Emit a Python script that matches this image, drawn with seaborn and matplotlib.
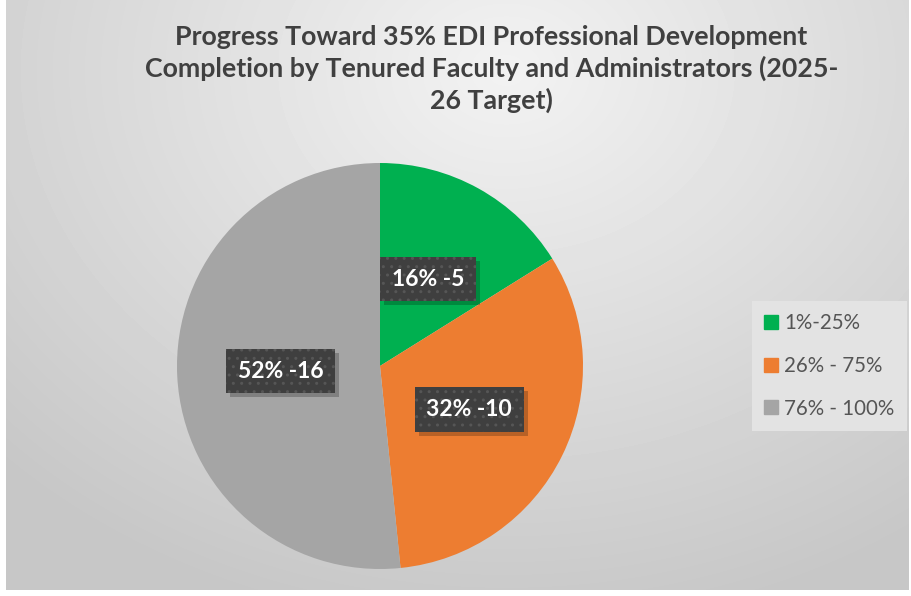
import numpy as np
import matplotlib
matplotlib.use("Agg")
import matplotlib.pyplot as plt
import matplotlib.transforms as mtransforms
import seaborn as sns

ranges = ["1%-25%", "26% - 75%", "76% - 100%"]
counts = [5, 10, 16]
colors = ["#00B050", "#ED7D31", "#A5A5A5"]
title = ("Progress Toward 35% EDI Professional Development\n"
         "Completion by Tenured Faculty and Administrators (2025-\n"
         "26 Target)")

sns.set_theme(style="white")
plt.rcParams["font.family"] = ["Lato", "DejaVu Sans"]

fig = plt.figure(figsize=(9.12, 5.96), dpi=100)
fig.patch.set_facecolor("white")

# chart area background with soft gradient
bg = fig.add_axes([6 / 912, 6 / 596, 903 / 912, 590 / 596])
bg.set_axis_off()
yy, xx = np.mgrid[0:590, 0:903]
d = np.sqrt(((xx - 500) / 700.0) ** 2 + ((yy - 70) / 560.0) ** 2)
d = np.clip(d, 0, 1)
shade = 0.95 - 0.17 * d
bg.imshow(shade, cmap="gray", vmin=0, vmax=1, aspect="auto",
          extent=(0, 1, 0, 1), origin="upper")
bg.set_xlim(0, 1)
bg.set_ylim(0, 1)

fig.text(0.539, 0.958, title, ha="center", va="top", fontsize=19.3,
         fontweight="bold", color="#404040", linespacing=1.32)

# pie axes: center (380, 366), radius 203 px
r = 203
ax = fig.add_axes([(380 - r) / 912, (596 - 366 - r) / 596,
                   2 * r / 912, 2 * r / 596])
total = sum(counts)
wedges, texts = ax.pie(counts, colors=colors, startangle=90,
                       counterclock=False, radius=1,
                       wedgeprops=dict(linewidth=0))
ax.set_aspect("auto")
ax.set_xlim(-1, 1)
ax.set_ylim(-1, 1)

# data labels at about half the radius
labels = []
theta = 90.0
for c, w in zip(counts, wedges):
    span = 360.0 * c / total
    mid = np.deg2rad(theta - span / 2)
    theta -= span
    pct = round(100 * c / total)
    x, y = 0.49 * np.cos(mid), 0.49 * np.sin(mid)
    t = ax.text(x, y, f"{pct}% -{c}", ha="center", va="center",
                fontsize=16.5, fontweight="bold", color="white", zorder=5,
                bbox=dict(boxstyle="square,pad=0.52", facecolor="#3f3f3f",
                          edgecolor="#565656", linewidth=0, hatch=".."))
    labels.append(t)

# soft drop shadow under each label box
fig.canvas.draw()
for t in labels:
    ext = t.get_bbox_patch().get_window_extent()
    ax.add_patch(plt.Rectangle((ext.x0 + 4, ext.y0 - 4), ext.width,
                               ext.height, facecolor="black", alpha=0.22,
                               linewidth=0, zorder=4,
                               transform=mtransforms.IdentityTransform()))

handles = [plt.Rectangle((0, 0), 1, 1, color=c) for c in colors]
leg = fig.legend(handles, ranges, loc="center left",
                 bbox_to_anchor=(752 / 912, 1 - 366 / 596),
                 frameon=True, fontsize=14.8, labelspacing=1.1,
                 handlelength=0.68, handleheight=0.68, handletextpad=0.3,
                 borderpad=0.6, borderaxespad=0, fancybox=False)
leg.get_frame().set_facecolor("#e3e3e3")
leg.get_frame().set_edgecolor("none")
leg.get_frame().set_alpha(1)
for txt in leg.get_texts():
    txt.set_color("#555555")

fig.savefig("out.png", dpi=100)
